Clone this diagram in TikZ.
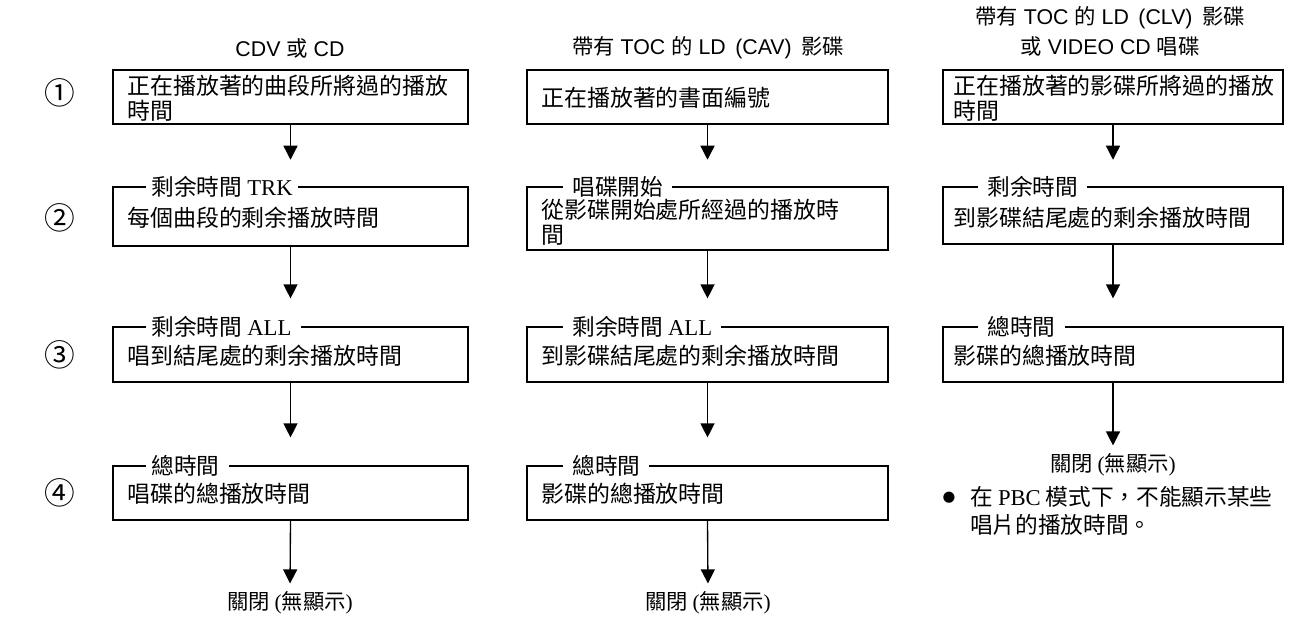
\documentclass[tikz,border=0pt]{standalone}
\usepackage{fontspec}
\setmainfont{Liberation Serif}
\newfontfamily\cjk{Noto Sans CJK TC}
\newfontfamily\arial{Liberation Sans}
\newfontfamily\djv{DejaVu Sans}
\usetikzlibrary{arrows.meta}
\begin{document}
\begin{tikzpicture}[x=0.75pt,y=-0.75pt,
  boxa/.style={draw, line width=0.9pt, inner sep=0pt, minimum width=266.25pt},
  boxb/.style={draw, line width=0.9pt, inner sep=0pt, minimum width=270.75pt},
  boxc/.style={draw, line width=0.9pt, inner sep=0pt, minimum width=255pt},
  txt/.style={anchor=west, inner sep=0pt, align=left, font=\cjk\fontsize{17.2}{18.6}\selectfont},
  lbl/.style={anchor=west, fill=white, inner xsep=4pt, inner ysep=1pt, font=\cjk\fontsize{17}{18}\selectfont},
  ttl/.style={inner sep=0pt, font=\arial\fontsize{16}{18}\selectfont},
  num/.style={inner sep=0pt, font=\cjk\fontsize{23}{24}\selectfont},
  offt/.style={inner sep=1pt, font=\cjk\fontsize{16}{18}\selectfont},
  arr/.style={line width=1pt, -{Triangle[width=10.5pt,length=10.5pt]}}]
\useasboundingbox (0,0) rectangle (1312,619);

% titles
\node[ttl] (T1) at (290,48) {CDV {\cjk 或} CD};
\node[ttl] (T2) at (708,48) {{\cjk 帶有} TOC {\cjk 的} LD\ \,(CAV)\ \,{\cjk 影碟}};
\node[ttl] (T3a) at (1110,18) {{\cjk 帶有} TOC {\cjk 的} LD\ \,(CLV)\ \,{\cjk 影碟}};
\node[ttl] (T3b) at (1110,46) {{\cjk 或} VIDEO CD {\cjk 唱碟}};

% row numbers
\node[num] (N1) at (60,93) {①};
\node[num] (N2) at (60,218) {②};
\node[num] (N3) at (60,355) {③};
\node[num] (N4) at (60,493) {④};

% column 1
\node[boxa, minimum height=40.5pt] (A1) at (290.5,97) {};
\node[txt] (A1t) at (127,98) {正在播放著的曲段所將過的播放\\時間};
\node[boxa, minimum height=44.25pt] (A2) at (290.5,216.5) {};
\node[lbl] (A2l) at (146,187) {剩余時間 {\rmfamily TRK}};
\node[txt] (A2t) at (127,218) {每個曲段的剩余播放時間};
\node[boxa, minimum height=41.25pt] (A3) at (290.5,354.5) {};
\node[lbl] (A3l) at (146,327) {剩余時間 {\rmfamily ALL}\,};
\node[txt] (A3t) at (127,356) {唱到結尾處的剩余播放時間};
\node[boxa, minimum height=40.5pt] (A4) at (290.5,493) {};
\node[lbl] (A4l) at (146,466) {總時間\,};
\node[txt] (A4t) at (127,494) {唱碟的總播放時間};
\node[offt] (A5) at (290,603) {關閉\ {\rmfamily (}無顯示{\rmfamily )}};

% column 2
\node[boxb, minimum height=40.5pt] (B1) at (707.5,97) {};
\node[txt] (B1t) at (541,98) {正在播放著的書面編號};
\node[boxb, minimum height=47.25pt] (B2) at (707.5,218.5) {};
\node[lbl] (B2l) at (563,187) {\,唱碟開始\,};
\node[txt] (B2t) at (541,222) {從影碟開始處所經過的播放時\\間};
\node[boxb, minimum height=41.25pt] (B3) at (707.5,354.5) {};
\node[lbl] (B3l) at (563,327) {\,剩余時間 {\rmfamily ALL}\,};
\node[txt] (B3t) at (541,356) {到影碟結尾處的剩余播放時間};
\node[boxb, minimum height=40.5pt] (B4) at (707.5,493) {};
\node[lbl] (B4l) at (563,466) {\,總時間\,};
\node[txt] (B4t) at (541,494) {影碟的總播放時間};
\node[offt] (B5) at (708,603) {關閉\ {\rmfamily (}無顯示{\rmfamily )}};

% column 3
\node[boxc, minimum height=40.5pt] (C1) at (1113,97) {};
\node[txt] (C1t) at (953,98) {正在播放著的影碟所將過的播放\\時間};
\node[boxc, minimum height=42.75pt] (C2) at (1113,215.5) {};
\node[lbl] (C2l) at (978,187) {\,剩余時間\,};
\node[txt] (C2t) at (953,218) {到影碟結尾處的剩余播放時間};
\node[boxc, minimum height=41.25pt] (C3) at (1113,354.5) {};
\node[lbl] (C3l) at (978,327) {\,總時間\,};
\node[txt] (C3t) at (953,356) {影碟的總播放時間};
\node[offt] (C4) at (1113,465) {關閉\ {\rmfamily (}無顯示{\rmfamily )}};
\node[inner sep=0pt, font=\djv\fontsize{11}{12}\selectfont] (Bul) at (949,498) {●};
\node[txt, font=\cjk\fontsize{17}{21}\selectfont] (Note) at (970,511) {在 {\rmfamily PBC} 模式下，不能顯示某些\\唱片的播放時間。};

% arrows
\draw[arr, shorten >=20pt] (A1.south) -- (A2.north);
\draw[arr, shorten >=21pt] (A2.south) -- (A3.north);
\draw[arr, shorten >=21pt] (A3.south) -- (A4.north);
\draw[arr, shorten >=5pt] (A4.south) -- (A5.north);
\draw[arr, shorten >=20pt] (B1.south) -- (B2.north);
\draw[arr, shorten >=21pt] (B2.south) -- (B3.north);
\draw[arr, shorten >=21pt] (B3.south) -- (B4.north);
\draw[arr, shorten >=5pt] (B4.south) -- (B5.north);
\draw[arr, shorten >=20pt] (C1.south) -- (C2.north);
\draw[arr, shorten >=21pt] (C2.south) -- (C3.north);
\draw[arr, shorten >=5pt] (C3.south) -- (C4.north);
\end{tikzpicture}
\end{document}
